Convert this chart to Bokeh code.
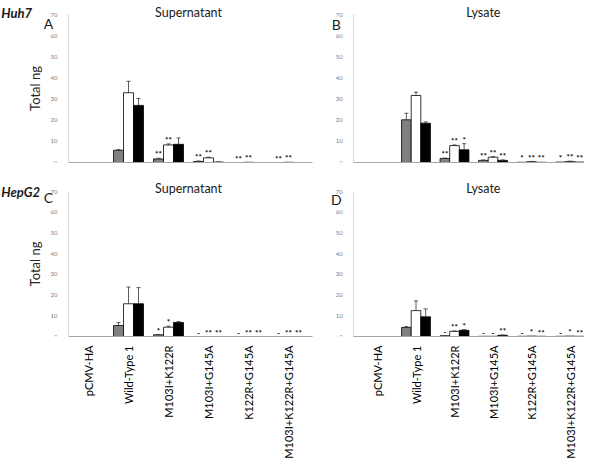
import math
from bokeh.plotting import figure
from bokeh.models import ColumnDataSource, Range1d, FixedTicker, Label
from bokeh.layouts import column, row
from bokeh.embed import file_html
from bokeh.resources import INLINE
from bokeh.core.properties import value

# ---------------- data ----------------
categories = ["pCMV-HA", "Wild-Type 1", "M103I+K122R", "M103I+G145A",
              "K122R+G145A", "M103I+K122R+G145A"]
series_colors = ["#808080", "#ffffff", "#000000"]
y_ticks = [0, 10, 20, 30, 40, 50, 60, 70]

# Panel A: Huh7 supernatant
A_gray = [0, 5.8, 1.7, 0.5, 0.0, 0.0]
A_white = [0, 33.0, 8.3, 2.2, 0.1, 0.1]
A_black = [0, 27.0, 8.6, 0.2, 0.0, 0.0]
A_err_gray = [0, 0.3, 0.3, 0.2, 0, 0]
A_err_white = [0, 5.4, 0.5, 0.3, 0, 0]
A_err_black = [0, 3.3, 3.0, 0.1, 0, 0]
A_sig_gray = ["", "", "**", "**", "**", "**"]
A_sig_white = ["", "", "**", "**", "**", "**"]
A_sig_black = ["", "", "", "", "", ""]

# Panel B: Huh7 lysate
B_gray = [0, 20.2, 1.9, 1.0, 0.1, 0.2]
B_white = [0, 31.7, 8.0, 2.5, 0.4, 0.5]
B_black = [0, 18.6, 6.0, 1.0, 0.1, 0.2]
B_err_gray = [0, 3.1, 0.2, 0.2, 0, 0]
B_err_white = [0, 1.6, 0.3, 0.3, 0.1, 0.1]
B_err_black = [0, 0.6, 2.9, 0.2, 0, 0]
B_sig_gray = ["", "", "**", "**", "*", "*"]
B_sig_white = ["", "", "**", "**", "**", "**"]
B_sig_black = ["", "", "*", "**", "**", "**"]

# Panel C: HepG2 supernatant
C_gray = [0, 5.3, 0.8, 0, 0, 0]
C_white = [0, 15.8, 4.5, 0, 0, 0]
C_black = [0, 15.8, 6.8, 0, 0, 0]
C_err_gray = [0, 1.4, 0.2, 0, 0, 0]
C_err_white = [0, 8.1, 0.5, 0, 0, 0]
C_err_black = [0, 7.8, 0.4, 0, 0, 0]
C_sig_gray = ["", "", "*", "-", "-", "-"]
C_sig_white = ["", "", "*", "**", "**", "**"]
C_sig_black = ["", "", "", "**", "**", "**"]

# Panel D: HepG2 lysate
D_gray = [0, 4.4, 0.4, 0.1, 0.1, 0.1]
D_white = [0, 12.5, 2.5, 0.1, 0.2, 0.2]
D_black = [0, 9.5, 3.0, 0.6, 0.1, 0.1]
D_err_gray = [0, 0.4, 0, 0, 0, 0]
D_err_white = [0, 4.7, 0.2, 0, 0, 0]
D_err_black = [0, 3.8, 0.3, 0.1, 0, 0]
D_sig_gray = ["", "", "-", "-", "-", "-"]
D_sig_white = ["", "", "**", "-", "*", "*"]
D_sig_black = ["", "", "*", "**", "**", "**"]

FONT = "Lato"
offsets = [-0.25, 0.0, 0.25]
BAR_W = 0.25


def make_panel(vals, errs, sigs, title, letter, cell, show_ylabel,
               show_xlabels, fig_w, zero_px, px_per_x, axis_x, axis_end,
               frame_h, px_above_70, px_per_y, border_bottom,
               title_x, title_y, letter_x, letter_y, cell_y):
    x_start = -zero_px / px_per_x
    x_end = x_start + fig_w / px_per_x
    y_end = 70 + px_above_70 / px_per_y
    p = figure(output_backend="svg", toolbar_location=None,
               frame_width=fig_w, frame_height=frame_h,
               min_border_left=0, min_border_right=0,
               min_border_top=0, min_border_bottom=border_bottom,
               x_range=Range1d(x_start, x_end), y_range=Range1d(0, y_end),
               outline_line_color=None, background_fill_color="white",
               border_fill_color="white")
    p.xgrid.visible = False
    p.ygrid.visible = False

    for k in range(3):
        xs = [i + 0.5 + offsets[k] for i in range(len(categories))]
        src = ColumnDataSource(dict(x=xs, top=vals[k]))
        p.vbar(x="x", top="top", width=BAR_W, source=src,
               fill_color=series_colors[k], line_color="#000000",
               line_width=0.8)
        ex, ey0, ey1 = [], [], []
        for i in range(len(categories)):
            if errs[k][i] > 0:
                ex.append(xs[i])
                ey0.append(vals[k][i])
                ey1.append(vals[k][i] + errs[k][i])
        esrc = ColumnDataSource(dict(x=ex, y0=ey0, y1=ey1))
        p.segment(x0="x", y0="y0", x1="x", y1="y1", source=esrc,
                  line_color="#333333", line_width=0.8)
        p.scatter(x="x", y="y1", source=esrc, marker="dash", size=4,
                  line_color="#333333", line_width=0.8)
        tx, ty, tt = [], [], []
        for i in range(len(categories)):
            if sigs[k][i]:
                tx.append(xs[i])
                ty.append(vals[k][i] + errs[k][i] + 1.8)
                tt.append(sigs[k][i])
        tsrc = ColumnDataSource(dict(x=tx, y=ty, t=tt))
        p.text(x="x", y="y", text="t", source=tsrc, text_align="center",
               text_baseline="middle", text_font=value(FONT),
               text_font_size="8px", text_font_style="bold",
               text_color="#000000")

    # y axis, drawn inside the frame at its fixed location
    p.yaxis.fixed_location = axis_x
    p.yaxis.ticker = FixedTicker(ticks=y_ticks)
    p.yaxis.bounds = (0, 70)
    p.yaxis.axis_line_color = "#d9d9d9"
    p.yaxis.major_tick_line_color = None
    p.yaxis.minor_tick_line_color = None
    p.yaxis.major_label_text_font_size = "6px"
    p.yaxis.major_label_text_color = "#808080"
    p.yaxis.major_label_text_font = FONT
    p.yaxis.major_label_standoff = 5
    if show_ylabel:
        p.yaxis.axis_label = "Total ng"
        p.yaxis.axis_label_text_font = FONT
        p.yaxis.axis_label_text_font_size = "13px"
        p.yaxis.axis_label_text_font_style = "normal"
        p.yaxis.axis_label_text_color = "#262626"
        p.yaxis.axis_label_standoff = 5

    # x axis
    p.xaxis.bounds = (axis_x, axis_end)
    p.xaxis.axis_line_color = "#a6a6a6"
    p.xaxis.major_tick_line_color = None
    p.xaxis.minor_tick_line_color = None
    if show_xlabels:
        ticks = [i + 0.5 for i in range(len(categories))]
        p.xaxis.ticker = FixedTicker(ticks=ticks)
        p.xaxis.major_label_overrides = {t: c for t, c in zip(ticks, categories)}
        p.xaxis.major_label_orientation = math.pi / 2
        p.xaxis.major_label_text_font = FONT
        p.xaxis.major_label_text_font_size = "11px"
        p.xaxis.major_label_text_color = "#000000"
        p.xaxis.major_label_standoff = 3
    else:
        p.xaxis.ticker = FixedTicker(ticks=[])

    p.add_layout(Label(x=title_x, y=title_y, text=title, text_align="center",
                       text_baseline="alphabetic", text_font=FONT,
                       text_font_size="12.5px", text_color="#1a1a1a"))
    p.add_layout(Label(x=letter_x, y=letter_y, text=letter, text_align="center",
                       text_baseline="middle", text_font=FONT,
                       text_font_size="14px", text_color="#1a1a1a"))
    if cell:
        p.add_layout(Label(x=x_start + 0.02, y=cell_y, text=cell,
                           text_align="left", text_baseline="alphabetic",
                           text_font=FONT, text_font_size="13px",
                           text_font_style="bold italic",
                           text_color="#1a1a1a"))
    return p


# top row: y=70 at 14 px, y=0 at 162 px
TOP_PY = 148 / 70
# bottom row: y=70 at 21 px below row top, y=0 at 166 px below row top
BOT_PY = 145 / 70

pA = make_panel([A_gray, A_white, A_black],
                [A_err_gray, A_err_white, A_err_black],
                [A_sig_gray, A_sig_white, A_sig_black],
                "Supernatant", "A", "Huh7", True, False,
                326, 68, 40.0, 0.0, 6.1, 162, 14, TOP_PY, 8,
                3.0, 70.9, -0.5, 65.7, 70.9)
pB = make_panel([B_gray, B_white, B_black],
                [B_err_gray, B_err_white, B_err_black],
                [B_sig_gray, B_sig_white, B_sig_black],
                "Lysate", "B", None, False, False,
                258, 31.75, 38.5, -0.12, 6.2, 162, 14, TOP_PY, 8,
                3.25, 70.9, -0.57, 65.3, 70.9)
pC = make_panel([C_gray, C_white, C_black],
                [C_err_gray, C_err_white, C_err_black],
                [C_sig_gray, C_sig_white, C_sig_black],
                "Supernatant", "C", "HepG2", True, True,
                326, 68, 40.0, 0.0, 6.1, 166, 21, BOT_PY, 116,
                3.0, 71.4, -0.5, 67.1, 69.8)
pD = make_panel([D_gray, D_white, D_black],
                [D_err_gray, D_err_white, D_err_black],
                [D_sig_gray, D_sig_white, D_sig_black],
                "Lysate", "D", None, False, True,
                258, 31.75, 38.5, -0.12, 6.2, 166, 21, BOT_PY, 116,
                3.25, 71.4, -0.57, 66.1, 69.8)

layout = column(row(pA, pB), row(pC, pD))
open("out.html", "w").write(file_html(layout, INLINE))
